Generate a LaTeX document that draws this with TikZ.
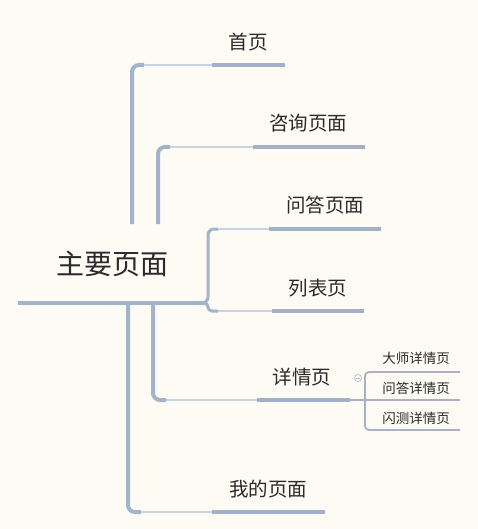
\documentclass[tikz,border=0pt]{standalone}
\usepackage{fontspec}
\newfontfamily\cjk{Noto Sans CJK SC}
\definecolor{bg}{HTML}{FDFBF4}
\definecolor{trunkc}{HTML}{A2B4CC}
\definecolor{linkc}{HTML}{C9D3E0}
\definecolor{underc}{HTML}{A3B1C8}
\definecolor{subc}{HTML}{AAB1C6}
\definecolor{txt}{HTML}{2A2A2A}
\tikzset{
  trunk/.style={draw=trunkc, line width=4pt, rounded corners=7pt},
  link/.style={draw=linkc, line width=1.8pt},
  under/.style={draw=underc, line width=3.2pt},
  subline/.style={draw=subc, line width=1.8pt, rounded corners=4pt},
  roottxt/.style={text=txt, font=\cjk\fontsize{28}{30}\selectfont, inner sep=0pt},
  childtxt/.style={text=txt, font=\cjk\fontsize{19.5}{22}\selectfont, inner sep=0pt},
  subtxt/.style={text=txt, font=\cjk\fontsize{13.5}{15}\selectfont, inner sep=0pt},
}
\begin{document}
\begin{tikzpicture}[x=1pt,y=-1pt]
\fill[bg] (0,0) rectangle (478,529);
\useasboundingbox (0,0) rectangle (478,529);

% root
\node[roottxt] (root) at (112,264) {主要页面};
\coordinate (rl) at (18,303);
\coordinate (rr) at (206,303);
\draw[trunk, rounded corners=0pt] (rl) -- (rr);

% branch 1
\node[childtxt] (c1) at (248,42) {首页};
\coordinate (b1s) at (132,224);
\coordinate (b1c) at (144,65);
\coordinate (b1a) at (212,65);
\coordinate (b1b) at (285,65);
\draw[trunk] (b1s) |- (b1c);
\draw[link] (b1c) -- (b1a);
\draw[under] (b1a) -- (b1b);

% branch 2
\node[childtxt] (c2) at (308,123) {咨询页面};
\coordinate (b2s) at (158,224);
\coordinate (b2c) at (170,147);
\coordinate (b2a) at (253,147);
\coordinate (b2b) at (365,147);
\draw[trunk] (b2s) |- (b2c);
\draw[link] (b2c) -- (b2a);
\draw[under] (b2a) -- (b2b);

% branch 3
\node[childtxt] (c3) at (325,205) {问答页面};
\coordinate (b3c) at (218,229);
\coordinate (b3a) at (269,229);
\coordinate (b3b) at (381,229);
\draw[draw=trunkc, line width=3pt, rounded corners=6pt] (rr) -| (208,280) |- (b3c);
\draw[link] (b3c) -- (b3a);
\draw[under] (b3a) -- (b3b);

% branch 4
\node[childtxt] (c4) at (318,288) {列表页};
\coordinate (b4c) at (218,311);
\coordinate (b4a) at (272,311);
\coordinate (b4b) at (364,311);
\draw[draw=trunkc, line width=3pt, rounded corners=4pt] (rr) -| (208,311) -- (b4c);
\draw[link] (b4c) -- (b4a);
\draw[under] (b4a) -- (b4b);

% branch 5
\node[childtxt] (c5) at (302,377) {详情页};
\coordinate (b5s) at (153,303);
\coordinate (b5c) at (166,400);
\coordinate (b5a) at (257,400);
\coordinate (b5b) at (350,400);
\draw[trunk] (b5s) |- (b5c);
\draw[link] (b5c) -- (b5a);
\draw[under] (b5a) -- (b5b);

% branch 6
\node[childtxt] (c6) at (268,489) {我的页面};
\coordinate (b6s) at (128,303);
\coordinate (b6c) at (141,512);
\coordinate (b6a) at (212,512);
\coordinate (b6b) at (325,512);
\draw[trunk] (b6s) |- (b6c);
\draw[link] (b6c) -- (b6a);
\draw[under] (b6a) -- (b6b);

% sub-branches of 详情页
\coordinate (sj) at (365,400);
\coordinate (s1e) at (460,372);
\coordinate (s2e) at (460,400);
\coordinate (s3e) at (460,430);
\draw[subline, rounded corners=0pt] (b5b) -- (sj) -- (s2e);
\draw[subline] (s1e) -| (sj);
\draw[subline] (s3e) -| (sj);
\node[subtxt] (d1) at (416,358) {大师详情页};
\node[subtxt] (d2) at (416,388) {问答详情页};
\node[subtxt] (d3) at (416,418) {闪测详情页};

% collapse marker
\node[circle, draw=subc, line width=0.6pt, minimum size=7pt, inner sep=0pt, fill=bg] (col) at (358,378) {};
\draw[draw=subc, line width=0.6pt] ([xshift=-2pt]col.center) -- ([xshift=2pt]col.center);
\end{tikzpicture}
\end{document}
